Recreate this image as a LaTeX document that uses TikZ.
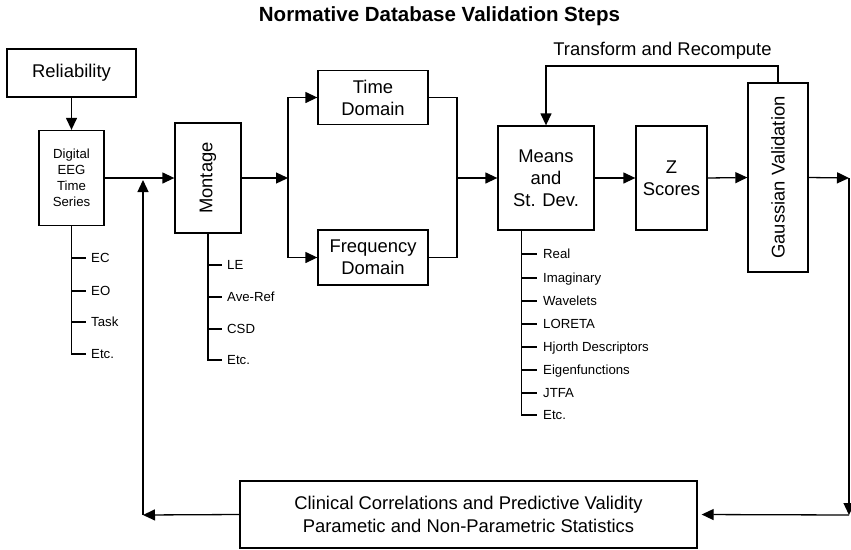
\documentclass[tikz,border=0pt]{standalone}
\usepackage{fontspec}
\setmainfont{Liberation Sans}
\usetikzlibrary{arrows.meta,calc}
\tikzset{
  line/.style={line width=1.3pt, draw=black},
  arr/.style={line, -{Triangle[length=12pt,width=11pt]}},
  box/.style={draw=black, line width=1.3pt, inner sep=2pt, align=center,
              font=\fontsize{18.4}{22}\selectfont},
  smallbox/.style={box, font=\fontsize{13.2}{16}\selectfont},
  item/.style={anchor=west, inner xsep=5pt, inner ysep=0pt, text height=12pt, text depth=2.5pt,
               font=\fontsize{13.2}{16}\selectfont},
  titlestyle/.style={font=\fontsize{20.5}{24}\selectfont\bfseries, anchor=base, inner sep=0pt},
  labelstyle/.style={font=\fontsize{18.4}{22}\selectfont, anchor=base, inner sep=0pt}
}
\begin{document}
\begin{tikzpicture}[x=1pt,y=-1pt]
\useasboundingbox (0,0) rectangle (851,549);

\node[titlestyle] (title) at (439.5,21) {Normative Database Validation Steps};

% boxes
\node[box, minimum width=129pt, minimum height=48pt] (rel) at (71.5,73) {Reliability};
\node[smallbox, minimum width=65pt, minimum height=95pt] (eeg) at (71.5,178) {Digital\\EEG\\Time\\Series};
\node[box, minimum width=66pt, minimum height=110pt] (mont) at (208,178) {\rotatebox{90}{Montage}};
\node[box, minimum width=110pt, minimum height=54pt] (td) at (373,97.5) {Time\\Domain};
\node[box, minimum width=110pt, minimum height=55pt] (fd) at (373,257.5) {Frequency\\Domain};
\node[box, minimum width=96pt, minimum height=104pt] (means) at (546,178) {Means\\and\\St. Dev.};
\node[box, minimum width=71pt, minimum height=104pt] (z) at (671.5,178) {Z\\Scores};
\node[box, minimum width=60pt, minimum height=189pt] (gauss) at (778,177.5) {\rotatebox{90}{Gaussian Validation}};
\node[box, minimum width=457pt, minimum height=67pt, font=\fontsize{18.4}{23}\selectfont] (clin) at (468.5,514.5)
  {Clinical Correlations and Predictive Validity\\Parametic and Non-Parametric Statistics};

% helper coordinates
\coordinate (split) at (288,178);
\coordinate (merge) at (457,178);
\coordinate (fbR) at (778,66);
\coordinate (gout) at (849,178);
\coordinate (cr) at (849,515);
\coordinate (cl) at (143,515);
\coordinate (upend) at (143,180);
\coordinate (mroot) at ($(means.south west)!0.25!(means.south east)$);

\node[labelstyle] (fblabel) at (662.5,55) {Transform and Recompute};

% main flow
\draw[arr] (rel.south) -- (eeg.north);
\draw[arr] (eeg.east) -- (mont.west);
\draw[arr] (mont.east) -- (split);
\draw[arr] (split) |- (td.west);
\draw[arr] (split) |- (fd.west);
\draw[line] (td.east) -| (merge);
\draw[line] (fd.east) -| (merge);
\draw[arr] (merge) -- (means.west);
\draw[arr] (means.east) -- (z.west);
\draw[arr] (z.east) -- (gauss.west);
\draw[arr] (gauss.north) -- (fbR) -| (means.north);
\draw[arr] (gauss.east) -- (gout);
\draw[arr] (gout) -- (cr);
\draw[arr, shorten >=4pt] (cr) -- (clin.east);
\draw[arr] (clin.west) -- (cl);
\draw[arr] (cl) -- (upend);

% EEG list
\foreach \yy/\tt [count=\i] in {258/EC,291/EO,322/Task,354/Etc.}{
  \node[item] (eegi\i) at (86,\yy) {\tt};
  \draw[line] (eeg.south) |- (eegi\i.west);
}
% Montage list
\foreach \yy/\tt [count=\i] in {265/LE,297/Ave-Ref,329/CSD,360/Etc.}{
  \node[item] (monti\i) at (222,\yy) {\tt};
  \draw[line] (mont.south) |- (monti\i.west);
}
% Means list
\foreach \yy/\tt [count=\i] in {254/Real,278/Imaginary,301/Wavelets,324/LORETA,347/Hjorth Descriptors,370/Eigenfunctions,393/JTFA,415/Etc.}{
  \node[item, inner xsep=6pt] (meani\i) at (537,\yy) {\tt};
  \draw[line] (mroot) |- (meani\i.west);
}
\end{tikzpicture}
\end{document}
